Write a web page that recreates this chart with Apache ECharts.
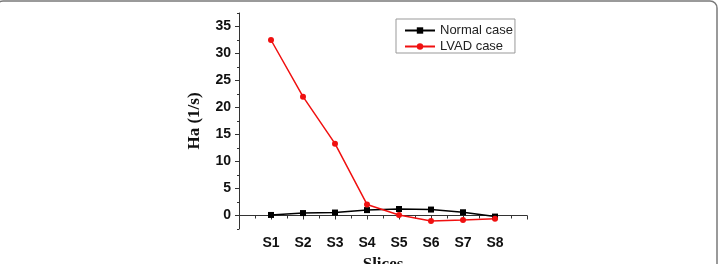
<!DOCTYPE html>
<html>
<head>
<meta charset="utf-8">
<script src="https://cdn.jsdelivr.net/npm/echarts@6/dist/echarts.min.js"></script>
<style>
  html, body { margin: 0; padding: 0; background: #fff; }
  #chart { width: 719px; height: 264px; }
</style>
</head>
<body>
<div id="chart"></div>
<script>
// slices along the x axis (placed at 1..8)
var slices = ["S1", "S2", "S3", "S4", "S5", "S6", "S7", "S8"];
var normalCase = [0.1, 0.45, 0.55, 1.0, 1.2, 1.1, 0.6, -0.2];
var lvadCase = [32.5, 22.0, 13.3, 2.05, 0.1, -1.0, -0.85, -0.6];
var yLabels = [0, 5, 10, 15, 20, 25, 30, 35];

function toPoints(vals) {
  return vals.map(function (v, i) { return [i + 1, v]; });
}

var myChart = echarts.init(document.getElementById("chart"));
var axisColor = "#333";

myChart.setOption({
  animation: false,
  graphic: [{
    type: "rect",
    shape: { x: -4, y: 1, width: 721, height: 330, r: 7 },
    style: { fill: "none", stroke: "#7a7a7a", lineWidth: 1.5 },
    silent: true
  }],
  grid: {
    left: 239, right: 192, top: 13, bottom: 35,
    containLabel: false, outerBoundsMode: "none"
  },
  legend: {
    orient: "vertical",
    left: 396, top: 19,
    padding: [5, 2, 0, 8],
    itemGap: 3,
    itemWidth: 30, itemHeight: 8,
    borderColor: "#999", borderWidth: 1,
    textStyle: { fontFamily: "Liberation Sans, Arial", fontSize: 13, color: "#222" },
    data: ["Normal case", "LVAD case"]
  },
  xAxis: {
    type: "value",
    min: 0, max: 9, interval: 1,
    name: "Slices",
    nameLocation: "middle",
    nameGap: 27,
    nameTextStyle: { fontFamily: "Liberation Serif, Times New Roman", fontWeight: "bold", fontSize: 17, color: "#111" },
    splitLine: { show: false },
    axisLine: { lineStyle: { color: axisColor, width: 1 } },
    axisTick: { inside: false, length: 4, lineStyle: { color: axisColor } },
    minorTick: { show: true, splitNumber: 2, length: 3, lineStyle: { color: axisColor } },
    axisLabel: {
      margin: 7,
      fontFamily: "Liberation Sans, Arial", fontWeight: "bold", fontSize: 14, color: "#111",
      formatter: function (v) { return slices[v - 1] || ""; }
    }
  },
  yAxis: [{
    type: "value",
    min: -2.5, max: 37.5,
    name: "Ha (1/s)",
    nameLocation: "middle",
    nameGap: 36,
    nameTextStyle: { fontFamily: "Liberation Serif, Times New Roman", fontWeight: "bold", fontSize: 17, color: "#111" },
    splitLine: { show: false },
    axisLine: { onZero: false, lineStyle: { color: axisColor, width: 1 } },
    axisTick: { length: 4, customValues: yLabels, lineStyle: { color: axisColor } },
    axisLabel: {
      margin: 8, customValues: yLabels,
      fontFamily: "Liberation Sans, Arial", fontWeight: "bold", fontSize: 14, color: "#111"
    }
  }, {
    // minor ticks every 2.5
    type: "value",
    position: "left",
    min: -2.5, max: 37.5, interval: 2.5,
    splitLine: { show: false },
    axisLine: { show: false },
    axisTick: { length: 2, lineStyle: { color: axisColor } },
    axisLabel: { show: false }
  }],
  series: [{
    name: "Normal case",
    type: "line",
    data: toPoints(normalCase),
    symbol: "rect", symbolSize: 6,
    lineStyle: { color: "#000", width: 1.5 },
    itemStyle: { color: "#000" }
  }, {
    name: "LVAD case",
    type: "line",
    data: toPoints(lvadCase),
    symbol: "circle", symbolSize: 6,
    lineStyle: { color: "#f01010", width: 1.5 },
    itemStyle: { color: "#f01010" }
  }]
});
</script>
</body>
</html>
